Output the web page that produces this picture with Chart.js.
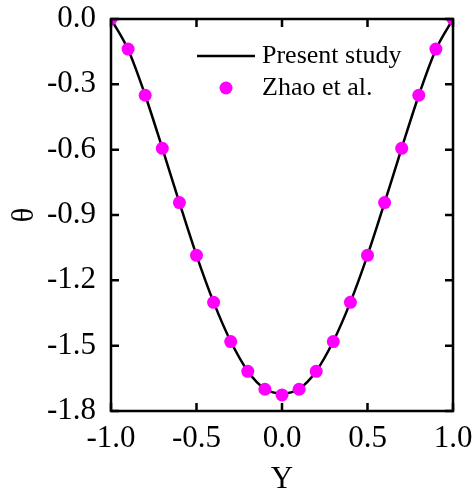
<!DOCTYPE html>
<html>
<head>
<meta charset="utf-8">
<script src="https://cdn.jsdelivr.net/npm/chart.js@4"></script>
<style>
  html, body { margin: 0; padding: 0; background: #fff; }
  #box { width: 474px; height: 491px; }
</style>
</head>
<body>
<div id="box"><canvas id="myChart"></canvas></div>
<script>
// data
const yPos = [-1.0, -0.9, -0.8, -0.7, -0.6, -0.5, -0.4, -0.3, -0.2, -0.1, 0.0,
              0.1, 0.2, 0.3, 0.4, 0.5, 0.6, 0.7, 0.8, 0.9, 1.0];
const presentTheta = [0, -0.14, -0.35, -0.593, -0.843, -1.085, -1.30, -1.48, -1.617, -1.698, -1.72,
                      -1.698, -1.617, -1.48, -1.30, -1.085, -0.843, -0.593, -0.35, -0.14, 0];
const zhaoTheta = [0, -0.138, -0.35, -0.594, -0.843, -1.085, -1.301, -1.481, -1.618, -1.70, -1.726,
                   -1.70, -1.618, -1.481, -1.301, -1.085, -0.843, -0.594, -0.35, -0.138, 0];
const xTicks = [-1.0, -0.5, 0.0, 0.5, 1.0];
const yTicks = [0.0, -0.3, -0.6, -0.9, -1.2, -1.5, -1.8];

const serif = "'Liberation Serif', 'DejaVu Serif', serif";

//* frame with inward ticks on all four sides
const framePlugin = {
  id: "frame",
  afterDatasetsDraw(chart) {
    const { ctx, chartArea: a, scales } = chart;
    ctx.save();
    ctx.strokeStyle = "#000";
    ctx.lineWidth = 2.5;
    ctx.strokeRect(a.left, a.top, a.right - a.left, a.bottom - a.top);
    const len = 8;
    ctx.beginPath();
    xTicks.forEach((v) => {
      const px = scales.x.getPixelForValue(v);
      ctx.moveTo(px, a.bottom); ctx.lineTo(px, a.bottom - len);
      ctx.moveTo(px, a.top); ctx.lineTo(px, a.top + len);
    });
    yTicks.forEach((v) => {
      const py = scales.y.getPixelForValue(v);
      ctx.moveTo(a.left, py); ctx.lineTo(a.left + len, py);
      ctx.moveTo(a.right, py); ctx.lineTo(a.right - len, py);
    });
    ctx.stroke();
    ctx.restore();
  },
};

//* legend placed inside the plot
const legendPlugin = {
  id: "innerLegend",
  afterDraw(chart) {
    const { ctx, chartArea: a } = chart;
    const x0 = a.left + 86, row1 = a.top + 37, row2 = a.top + 69;
    ctx.save();
    ctx.strokeStyle = "#000";
    ctx.lineWidth = 2.5;
    ctx.beginPath();
    ctx.moveTo(x0, row1); ctx.lineTo(x0 + 58, row1);
    ctx.stroke();
    ctx.fillStyle = "#ff00ff";
    ctx.beginPath();
    ctx.arc(x0 + 29, row2, 6.5, 0, Math.PI * 2);
    ctx.fill();
    ctx.fillStyle = "#000";
    ctx.font = "26px " + serif;
    ctx.textBaseline = "middle";
    ctx.fillText("Present study", x0 + 65, row1);
    ctx.fillText("Zhao et al.", x0 + 65, row2);
    ctx.restore();
  },
};

const ctx = document.querySelector("#myChart").getContext("2d");
const data = {
  labels: yPos,
  datasets: [
    {
      label: "Present study",
      data: yPos.map((x, i) => ({ x: x, y: presentTheta[i] })),
      borderColor: "#000",
      borderWidth: 2.5,
      pointRadius: 0,
      cubicInterpolationMode: "monotone",
      fill: false,
      clip: 0,
      order: 2,
    },
    {
      label: "Zhao et al.",
      data: yPos.map((x, i) => ({ x: x, y: zhaoTheta[i] })),
      showLine: false,
      pointRadius: 6.5,
      pointBackgroundColor: "#ff00ff",
      pointBorderWidth: 0,
      borderColor: "#ff00ff",
      clip: 0,
      order: 1,
    },
  ],
};

const config = {
  type: "line",
  data: data,
  options: {
    responsive: true,
    maintainAspectRatio: false,
    animation: false,
    layout: { padding: { left: 0, right: 21, top: 19, bottom: 0 } },
    plugins: { legend: { display: false }, tooltip: { enabled: false } },
    scales: {
      x: {
        type: "linear",
        min: -1,
        max: 1,
        afterBuildTicks: (s) => { s.ticks = xTicks.map((v) => ({ value: v })); },
        afterFit: (s) => {
          s.height = 80;
          s.paddingLeft = 0;
          s.paddingRight = 0;
        },
        grid: { display: false },
        border: { display: false },
        ticks: {
          padding: 1,
          color: "#000",
          font: { family: serif, size: 31 },
          maxRotation: 0,
          callback: (v) => v.toFixed(1),
        },
        title: {
          display: true,
          text: "Y",
          color: "#000",
          font: { family: serif, size: 31 },
          padding: { top: 0, bottom: -7 },
        },
      },
      y: {
        type: "linear",
        min: -1.8,
        max: 0,
        afterBuildTicks: (s) => { s.ticks = yTicks.map((v) => ({ value: v })); },
        afterFit: (s) => {
          s.width = 111;
          s.paddingTop = 0;
          s.paddingBottom = 0;
        },
        grid: { display: false },
        border: { display: false },
        ticks: {
          padding: 7,
          color: "#000",
          font: { family: serif, size: 31 },
          callback: (v) => v.toFixed(1),
        },
        title: {
          display: true,
          text: "θ",
          color: "#000",
          font: { family: serif, size: 31 },
          padding: { top: 6, bottom: 0 },
        },
      },
    },
  },
  plugins: [framePlugin, legendPlugin],
};

const myChart = new Chart(ctx, config);
</script>
</body>
</html>
